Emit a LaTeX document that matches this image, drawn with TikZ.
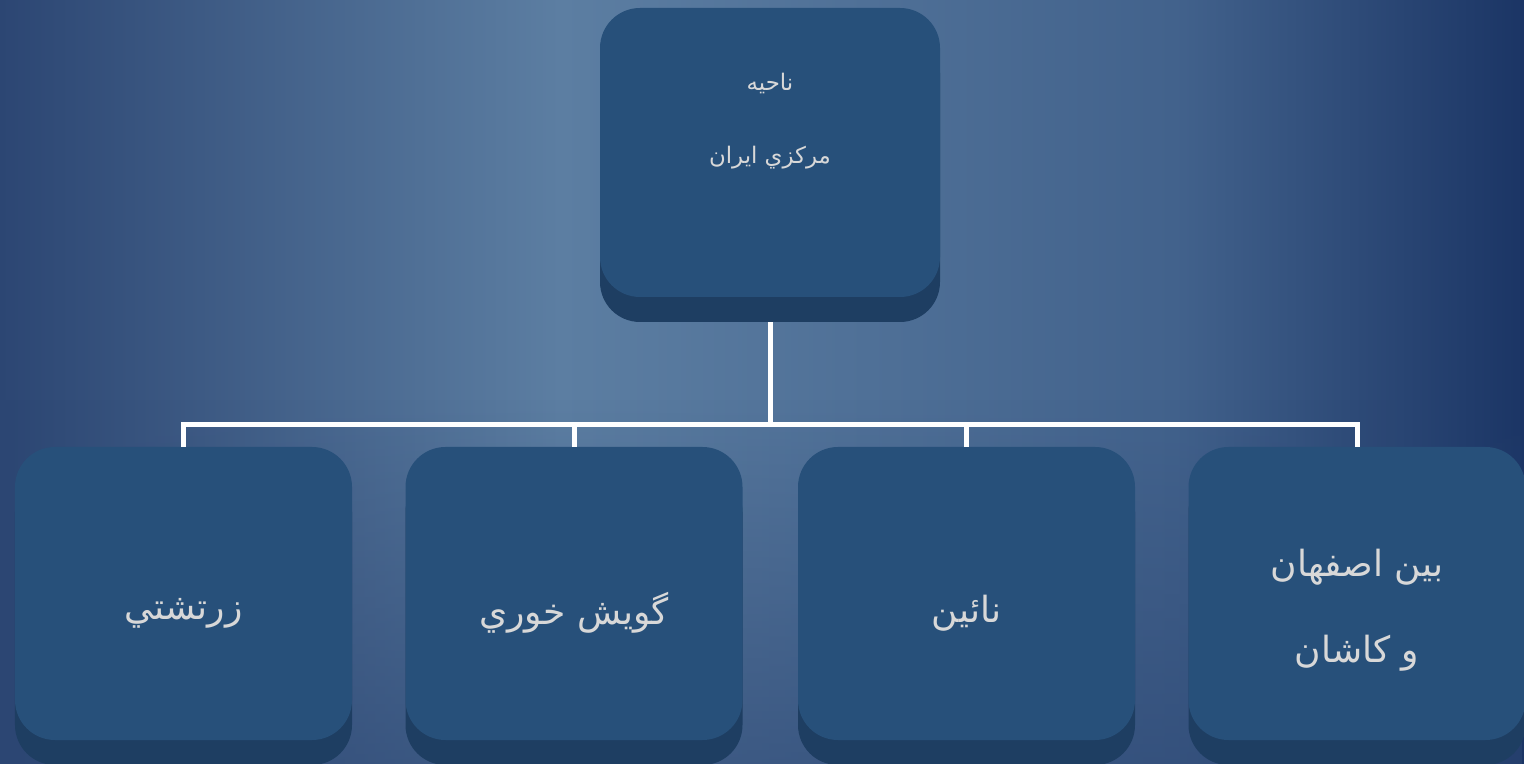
\documentclass[tikz,border=0pt]{standalone}
\usepackage{fontspec}
\usetikzlibrary{positioning,shadows,fadings,calc}
\newfontfamily\arabicfont[Script=Arabic]{DejaVu Sans}
\TeXXeTstate=1
\definecolor{bgedge}{HTML}{2C4673}
\definecolor{bglight}{HTML}{5C7EA2}
\definecolor{bgmid}{HTML}{42628C}
\definecolor{bgright}{HTML}{1B3565}
\definecolor{boxblue}{HTML}{27507A}
\definecolor{boxside}{HTML}{1E3E62}
\definecolor{labelgray}{HTML}{D8D8D8}

\begin{document}
\begin{tikzpicture}[
  panel/.style={fill=boxblue,rounded corners=0.8cm,minimum width=6.74cm,minimum height=5.86cm,
    drop shadow={shadow xshift=0cm,shadow yshift=-0.5cm,fill=boxside,opacity=1}},
  tag/.style={text=labelgray,align=center,font=\arabicfont\fontsize{20.5}{49}\selectfont},
  toptag/.style={tag,font=\arabicfont\fontsize{13}{41.5}\selectfont},
  wire/.style={draw=white,line width=0.1cm}]
\useasboundingbox (0,0) rectangle (30.48,-15.28);
% background
\shade[left color=bgedge,right color=bglight] (0,0) rectangle (11.2,-15.28);
\shade[left color=bglight,right color=bgmid] (11.2,0) rectangle (23.5,-15.28);
\shade[left color=bgmid,right color=bgright] (23.5,0) rectangle (30.48,-15.28);
\fill[bgedge,path fading=north,opacity=0.6] (0,-8) rectangle (30.48,-15.28);

% root
\node[panel,minimum width=6.8cm,minimum height=5.78cm] (top) at (15.4,-3.05) {};
\node[toptag] (toplbl) at (15.4,-2.43) {\beginR ناحيه\endR\\\beginR مركزي ايران\endR};

% children
\node[panel] (b1) at (3.67,-11.87) {};
\node[panel] (b2) at (11.48,-11.87) {};
\node[panel] (b3) at (19.33,-11.87) {};
\node[panel] (b4) at (27.14,-11.87) {};
\node[tag] (t1) at (3.67,-12.26) {\beginR زرتشتي\endR};
\node[tag] (t2) at (11.48,-12.26) {\beginR گويش خوري\endR};
\node[tag] (t3) at (19.33,-12.26) {\beginR نائين\endR};
\node[tag] (t4) at (27.14,-12.2) {\beginR بين اصفهان\endR\\\beginR و كاشان\endR};

% connectors
\coordinate (bus) at (15.4,-8.5);
\draw[wire] ([yshift=-0.5cm]top.south) -- (bus);
\foreach \b in {b1,b2,b3,b4}
  \draw[wire] (bus) -| (\b.north);
\end{tikzpicture}
\end{document}
